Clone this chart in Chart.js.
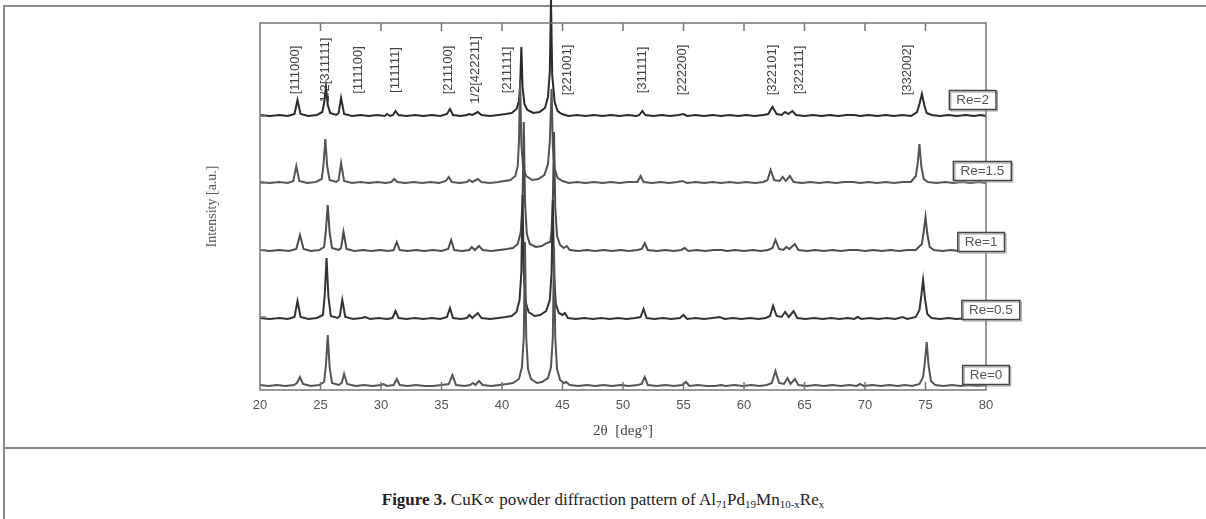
<!DOCTYPE html>
<html>
<head>
<meta charset="utf-8">
<script src="https://cdn.jsdelivr.net/npm/chart.js@4.4.1/dist/chart.umd.min.js"></script>
<style>
body { margin: 0; background: #fff; width: 1206px; height: 519px; overflow: hidden; position: relative; }
#frame { position: absolute; left: 3px; top: 5px; width: 1210px; height: 520px; border-top: 2px solid #8a8a8a; border-left: 2px solid #8a8a8a; }
#sep { position: absolute; left: 3px; top: 447px; width: 1210px; border-top: 2px solid #8a8a8a; }
canvas { position: absolute; left: 0; top: 0; }
#caption { position: absolute; top: 489px; left: 0; width: 1206px; text-align: center; font: 17px "Liberation Serif", "Times New Roman", serif; color: #222; }
#caption sub { font-size: 11px; vertical-align: -3px; line-height: 0; }
</style>
</head>
<body>
<div id="frame"></div>
<div id="sep"></div>
<canvas id="xrd" width="1206" height="448"></canvas>
<div id="caption"><b>Figure 3.</b> CuK∝ powder diffraction pattern of Al<sub>71</sub>Pd<sub>19</sub>Mn<sub>10-x</sub>Re<sub>x</sub></div>
<script>
// series names, bottom to top, and the vertical offset of each trace
const seriesNames = ['Re=0', 'Re=0.5', 'Re=1', 'Re=1.5', 'Re=2'];
const seriesOffsets = [3, 70, 138, 206, 273];

// [2theta, intensity above baseline]
const re0 = [[20,2],[20.7,1],[21.4,2],[22.1,1],[22.8,2],[23.05,4],[23.3,10],[23.55,3],[24.2,1],[24.9,2],[25.3,5],[25.45,22],[25.6,52],[25.75,20],[25.95,4],[26.5,2],[26.75,4],[26.95,13],[27.2,3],[27.9,1],[28.6,2],[29.3,1],[30,2],[30.2,3],[30.5,1],[31.05,2],[31.3,8],[31.55,2],[32.2,1],[32.9,2],[33.6,1],[34.3,1],[35,2],[35.6,3],[35.9,12],[36.2,2],[36.9,1],[37.35,2],[37.6,4],[37.8,2],[38.1,6],[38.4,2],[39.1,1],[39.8,2],[40.4,3],[40.9,4],[41.4,8],[41.65,20],[41.8,50],[41.9,145],[42.0,50],[42.15,18],[42.4,8],[42.9,4],[43.3,5],[43.8,9],[44.05,20],[44.2,50],[44.3,140],[44.4,50],[44.55,18],[44.8,7],[45.1,4],[45.3,5],[45.6,2],[46.3,1],[47,2],[47.7,1],[48.4,2],[49.1,1],[49.8,2],[50.5,1],[51.2,2],[51.55,3],[51.8,10],[52.05,2],[52.8,1],[53.5,2],[54.2,1],[54.9,2],[55.2,5],[55.5,1],[56.2,2],[56.9,1],[57.6,1],[58.1,2],[58.5,1],[59.2,2],[59.9,1],[60.6,2],[61.3,1],[61.9,2],[62.3,4],[62.6,16],[62.9,4],[63.3,3],[63.6,9],[63.85,3],[64.2,8],[64.5,2],[65.2,1],[65.9,2],[66.6,1],[67.3,2],[68,1],[68.7,2],[69.3,1],[69.6,3],[69.9,1],[70.6,2],[71.3,1],[72,2],[72.7,1],[73.3,2],[73.9,1],[74.5,3],[74.8,10],[74.95,25],[75.1,45],[75.25,22],[75.45,6],[75.8,2],[76.5,1],[77.2,2],[77.9,1],[78.6,2],[79.3,1],[80,2]];
const re05 = [[20,2],[20.8,1],[21.6,2],[22.3,1],[22.85,3],[23.1,19],[23.35,3],[24,1],[24.7,2],[25.2,5],[25.35,25],[25.5,62],[25.65,24],[25.85,4],[26.4,2],[26.6,4],[26.8,20],[27.05,3],[27.7,1],[28.4,2],[28.7,3],[29.1,1],[29.8,2],[30.5,1],[30.95,2],[31.2,9],[31.45,2],[32.1,1],[32.8,2],[33.5,1],[34.2,2],[34.9,1],[35.45,3],[35.7,12],[35.95,2],[36.6,1],[37.1,2],[37.3,5],[37.55,2],[38,7],[38.3,2],[39,1],[39.7,2],[40.3,3],[40.8,4],[41.2,8],[41.45,20],[41.6,48],[41.7,125],[41.8,48],[41.95,18],[42.2,8],[42.7,4],[43.15,5],[43.65,9],[43.95,20],[44.1,48],[44.2,120],[44.3,45],[44.45,16],[44.7,7],[45,5],[45.2,7],[45.45,2],[46.1,1],[46.8,2],[47.5,1],[48.2,2],[48.9,1],[49.6,2],[50.3,1],[51,2],[51.45,3],[51.7,11],[51.95,2],[52.6,1],[53.3,2],[54,1],[54.7,2],[55,5],[55.3,1],[56,2],[56.7,1],[57.4,2],[58,3],[58.4,1],[59.1,2],[59.8,1],[60.5,2],[61.2,1],[61.8,2],[62.15,4],[62.4,14],[62.7,4],[63.1,3],[63.4,8],[63.7,3],[64.1,9],[64.4,2],[65.1,1],[65.8,2],[66.5,1],[67.2,2],[67.9,1],[68.6,2],[69.1,1],[69.4,3],[69.7,1],[70.4,2],[71.1,1],[71.8,2],[72.5,1],[73.1,3],[73.5,1],[74.2,3],[74.5,10],[74.65,24],[74.8,40],[74.95,22],[75.15,6],[75.5,2],[76.2,1],[76.9,2],[77.6,1],[78.3,2],[79,1],[79.6,2],[80,1]];
const re1 = [[20,2],[20.8,1],[21.6,2],[22.4,1],[23,3],[23.3,17],[23.6,3],[24.2,1],[24.9,2],[25.3,5],[25.45,22],[25.6,47],[25.75,20],[25.95,4],[26.5,2],[26.7,4],[26.9,20],[27.15,3],[27.8,1],[28.5,2],[29.2,1],[29.9,2],[30.6,1],[31.05,2],[31.3,10],[31.55,2],[32.2,1],[32.9,2],[33.6,1],[34.3,2],[35,1],[35.55,3],[35.8,12],[36.05,2],[36.7,1],[37.3,2],[37.5,5],[37.75,2],[38.1,6],[38.4,2],[39.1,1],[39.8,2],[40.4,3],[40.9,4],[41.3,8],[41.55,20],[41.7,50],[41.8,130],[41.9,50],[42.05,18],[42.3,8],[42.8,5],[43.3,6],[43.7,9],[44,10],[44.1,22],[44.2,50],[44.3,120],[44.4,45],[44.55,16],[44.8,7],[45.1,4],[45.35,6],[45.6,2],[46.3,1],[47,2],[47.7,1],[48.4,2],[49.1,1],[49.8,2],[50.5,1],[51.2,2],[51.55,3],[51.8,9],[52.05,2],[52.8,1],[53.5,2],[54.2,1],[54.8,2],[55.1,4],[55.4,1],[56.1,2],[56.8,1],[57.5,2],[58.2,2],[58.6,1],[59.3,2],[60,1],[60.7,2],[61.4,1],[62,2],[62.35,4],[62.6,12],[62.9,3],[63.25,2],[63.5,5],[63.75,3],[64.2,8],[64.5,2],[65.2,1],[65.9,2],[66.6,1],[67.3,2],[68,1],[68.7,2],[69.4,2],[70,1],[70.7,2],[71.4,1],[72.1,2],[72.8,1],[73.5,2],[74.2,2],[74.7,8],[74.85,20],[75,35],[75.15,18],[75.35,5],[75.7,2],[76.4,1],[77.1,2],[77.8,1],[78.5,2],[79.2,1],[80,2]];
const re15 = [[20,2],[20.8,1],[21.6,2],[22.3,1],[22.75,3],[23,18],[23.25,3],[23.9,1],[24.6,2],[25.1,5],[25.25,20],[25.4,45],[25.55,18],[25.75,4],[26.3,2],[26.5,4],[26.7,21],[26.95,3],[27.6,1],[28.3,2],[29,1],[29.7,2],[30.4,1],[30.85,2],[31.1,5],[31.35,2],[32,1],[32.7,2],[33.4,1],[34.1,2],[34.8,1],[35.35,3],[35.6,7],[35.85,2],[36.5,1],[37.1,2],[37.3,4],[37.55,2],[38,5],[38.3,2],[39,1],[39.7,2],[40.2,3],[40.7,4],[41.1,8],[41.3,18],[41.4,42],[41.5,105],[41.6,40],[41.75,16],[42,8],[42.5,4],[43,5],[43.5,9],[43.8,20],[43.95,42],[44.1,95],[44.2,38],[44.35,15],[44.6,6],[45,3],[45.5,1],[46.2,2],[46.9,1],[47.6,2],[48.3,1],[49,2],[49.7,1],[50.4,2],[51.2,2],[51.45,8],[51.7,2],[52.4,1],[53.1,2],[53.8,1],[54.5,2],[54.9,3],[55.3,1],[56,2],[56.7,1],[57.4,2],[58.1,1],[58.8,2],[59.5,1],[60.2,2],[60.9,1],[61.6,2],[61.95,4],[62.2,14],[62.5,4],[62.95,3],[63.2,7],[63.45,3],[63.8,8],[64.1,2],[64.8,1],[65.5,2],[66.2,1],[66.9,2],[67.6,1],[68.3,2],[69,2],[69.6,1],[70.3,2],[71,1],[71.7,2],[72.4,1],[73.1,2],[73.8,2],[74.2,8],[74.35,20],[74.5,40],[74.65,18],[74.85,5],[75.2,2],[75.9,1],[76.6,2],[77.3,1],[78,2],[78.7,1],[79.4,2],[80,1]];
const re2 = [[20,2],[20.8,1],[21.6,2],[22.3,1],[22.85,3],[23.1,17],[23.35,3],[24,1],[24.7,2],[25.15,5],[25.3,14],[25.45,30],[25.6,12],[25.8,4],[26.3,2],[26.5,4],[26.7,19],[26.95,3],[27.6,1],[28.3,2],[29,1],[29.7,2],[30.3,1],[30.5,3],[30.75,1],[31,2],[31.2,6],[31.45,2],[32.1,1],[32.8,2],[33.5,1],[34.2,2],[34.9,1],[35.45,3],[35.7,8],[35.95,2],[36.6,1],[37.1,2],[37.3,3],[37.55,2],[38,5],[38.3,2],[39,1],[39.7,2],[40.3,3],[40.8,4],[41.2,8],[41.4,16],[41.5,32],[41.6,70],[41.7,30],[41.85,13],[42.1,7],[42.6,4],[43.1,5],[43.55,9],[43.8,20],[43.95,45],[44.05,118],[44.15,42],[44.35,15],[44.6,6],[44.95,3],[45.5,1],[46.2,2],[46.9,1],[47.6,2],[48.3,1],[49,2],[49.7,1],[50.4,2],[51.1,1],[51.35,2],[51.6,6],[51.85,2],[52.5,1],[53.2,2],[53.9,1],[54.6,2],[55,3],[55.3,1],[56,2],[56.7,1],[57.4,2],[58.1,1],[58.8,2],[59.5,1],[60.2,2],[60.9,1],[61.6,2],[62,3],[62.35,10],[62.7,3],[63.1,2],[63.4,5],[63.65,3],[64,6],[64.3,2],[65,1],[65.7,2],[66.4,1],[67.1,2],[67.8,1],[68.5,2],[69.1,2],[69.6,1],[70.3,2],[71,1],[71.7,2],[72.4,1],[73.1,2],[73.8,1],[74.3,5],[74.5,13],[74.7,23],[74.9,12],[75.1,4],[75.5,2],[76.2,1],[76.9,2],[77.6,1],[78.3,2],[79,1],[79.6,2],[80,1]];
const seriesData = [re0, re05, re1, re15, re2];
const seriesColors = ['#555', '#333', '#4d4d4d', '#555', '#2b2b2b'];

// reflection indices written along the top, with their 2theta position
const hklLabels = ['[111000]', '1/2[311111]', '[111100]', '[111111]', '[211100]', '1/2[422211]', '[211111]', '[221001]', '[311111]', '[222200]', '[322101]', '[322111]', '[332002]'];
const hklPos = [22.93, 25.41, 28.14, 31.2, 35.58, 37.81, 40.45, 45.41, 51.61, 54.92, 62.36, 64.59, 73.51];
const hklLevel = 320;

// where each Re= box sits (2theta, intensity)
const boxX = [80.0, 80.4, 79.6, 79.7, 78.9];
const boxY = [15, 80, 148, 219, 290];

const xTicks = [20, 25, 30, 35, 40, 45, 50, 55, 60, 65, 70, 75, 80];
const yTicks = [73, 140, 207, 274];

const framePlugin = {
    id: 'frame',
    afterDatasetsDraw(chart) {
        const ctx = chart.ctx;
        const a = chart.chartArea;
        const xs = chart.scales.x, ys = chart.scales.y;
        ctx.save();
        ctx.strokeStyle = '#777';
        ctx.lineWidth = 1.5;
        ctx.strokeRect(a.left, a.top, a.right - a.left, a.bottom - a.top);
        ctx.beginPath();
        xTicks.slice(1, -1).forEach(v => {
            const px = xs.getPixelForValue(v);
            ctx.moveTo(px, a.top); ctx.lineTo(px, a.top + 8);
            ctx.moveTo(px, a.bottom); ctx.lineTo(px, a.bottom - 8);
        });
        yTicks.forEach(v => {
            const py = ys.getPixelForValue(v);
            ctx.moveTo(a.left, py); ctx.lineTo(a.left + 6, py);
        });
        ctx.stroke();
        ctx.restore();
    },
    afterDraw(chart) {
        const ctx = chart.ctx;
        const xs = chart.scales.x, ys = chart.scales.y;
        ctx.save();
        ctx.fillStyle = '#444';
        ctx.font = '13px "Liberation Sans", Arial, sans-serif';
        ctx.textAlign = 'center';
        ctx.textBaseline = 'middle';
        hklLabels.forEach((t, i) => {
            ctx.save();
            ctx.translate(xs.getPixelForValue(hklPos[i]), ys.getPixelForValue(hklLevel));
            ctx.rotate(-Math.PI / 2);
            ctx.fillText(t, 0, 0);
            ctx.restore();
        });
        ctx.font = '13.5px "Liberation Sans", Arial, sans-serif';
        seriesNames.forEach((t, i) => {
            const cx = xs.getPixelForValue(boxX[i]);
            const cy = ys.getPixelForValue(boxY[i]);
            const w = ctx.measureText(t).width + 14;
            const h = 19;
            ctx.fillStyle = '#fff';
            ctx.fillRect(cx - w / 2, cy - h / 2, w, h);
            ctx.strokeStyle = '#999';
            ctx.lineWidth = 1;
            ctx.strokeRect(cx - w / 2 + 1.5, cy - h / 2 + 1.5, w, h);
            ctx.strokeStyle = '#444';
            ctx.lineWidth = 1.5;
            ctx.strokeRect(cx - w / 2, cy - h / 2, w, h);
            ctx.fillStyle = '#555';
            ctx.fillText(t, cx, cy + 0.5);
        });
        ctx.restore();
    }
};

const datasets = seriesData.map((pts, i) => ({
    label: seriesNames[i],
    data: pts.map(p => ({ x: p[0], y: p[1] + seriesOffsets[i] })),
    borderColor: seriesColors[i],
    borderWidth: 2,
    pointRadius: 0,
    tension: 0,
    fill: false,
    clip: false
}));

new Chart(document.getElementById('xrd'), {
    type: 'line',
    data: { datasets: datasets },
    options: {
        responsive: false,
        animation: false,
        devicePixelRatio: 1,
        layout: { padding: { left: 200, right: 220, top: 23, bottom: 8 } },
        plugins: { legend: { display: false }, tooltip: { enabled: false } },
        scales: {
            x: {
                type: 'linear',
                min: 20,
                max: 80,
                afterFit: s => { s.height = 50; },
                afterBuildTicks: s => { s.ticks = xTicks.map(v => ({ value: v })); },
                grid: { display: false },
                border: { display: false },
                ticks: { color: '#555', padding: 0, font: { family: '"Liberation Sans", Arial, sans-serif', size: 13 } },
                title: { display: true, text: '2θ  [deg°]', color: '#444', padding: { top: 0, bottom: 0 }, font: { family: '"Liberation Serif", "Times New Roman", serif', size: 15 } }
            },
            y: {
                min: 0,
                max: 367,
                afterFit: s => { s.width = 60; },
                afterBuildTicks: s => { s.ticks = yTicks.map(v => ({ value: v })); },
                grid: { display: false },
                border: { display: false },
                ticks: { display: false },
                title: { display: true, text: 'Intensity [a.u.]', color: '#555', padding: { top: 4, bottom: 0 }, font: { family: '"Liberation Serif", "Times New Roman", serif', size: 14 } }
            }
        }
    },
    plugins: [framePlugin]
});
</script>
</body>
</html>
